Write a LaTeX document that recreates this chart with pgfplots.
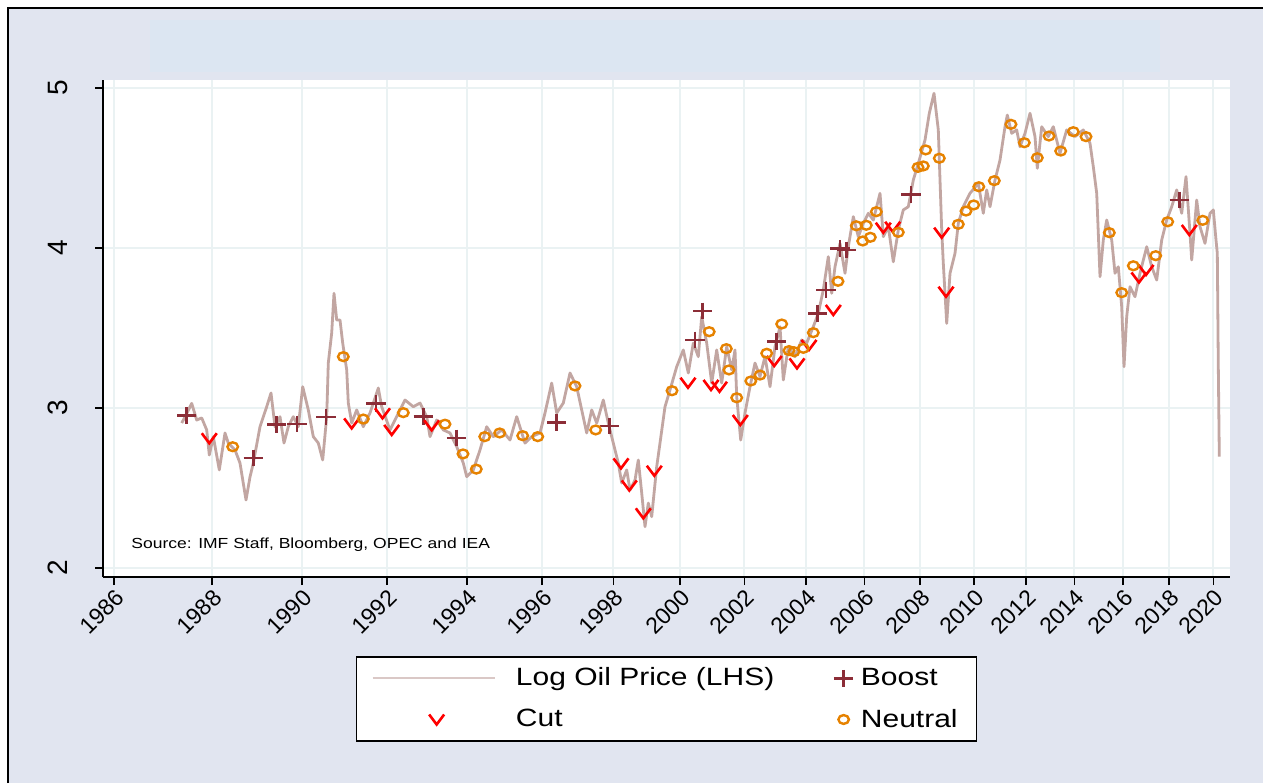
\documentclass[border=0pt]{standalone}
\usepackage{fontspec}
\setmainfont{Liberation Sans}[FakeStretch=1.2]
\newfontfamily\plainfont{Liberation Sans}
\usepackage{pgfplots}
\pgfplotsset{compat=1.18}
\definecolor{bgc}{RGB}{225,229,240}
\definecolor{bandc}{RGB}{220,230,242}
\definecolor{gridc}{RGB}{234,242,243}
\definecolor{oilc}{RGB}{194,166,162}
\definecolor{oilleg}{RGB}{218,200,198}
\definecolor{boostc}{RGB}{140,45,55}
\definecolor{cutc}{RGB}{255,0,0}
\definecolor{neutc}{RGB}{230,130,0}
\pgfdeclareplotmark{cutv}{%
  \pgfpathmoveto{\pgfqpoint{-0.75\pgfplotmarksize}{0.5\pgfplotmarksize}}%
  \pgfpathlineto{\pgfqpoint{0pt}{-0.5\pgfplotmarksize}}%
  \pgfpathlineto{\pgfqpoint{0.75\pgfplotmarksize}{0.5\pgfplotmarksize}}%
  \pgfusepathqstroke}

\pgfplotstableread{
x v
181.7 2.906
186.0 2.956
191.7 3.029
196.7 2.925
201.7 2.938
206.7 2.863
209.3 2.706
213.3 2.821
219.3 2.613
225.0 2.844
228.3 2.781
235.0 2.738
240.0 2.656
246.0 2.425
250.0 2.569
253.3 2.656
260.0 2.883
266.7 3.008
271.0 3.094
275.0 2.883
280.0 2.946
284.0 2.781
288.3 2.883
293.3 2.946
298.3 2.883
302.7 3.133
308.3 2.988
313.3 2.821
318.3 2.781
322.7 2.675
326.7 2.946
328.3 3.281
331.7 3.469
334.0 3.717
336.7 3.550
340.0 3.550
342.7 3.406
346.7 3.238
348.3 3.031
351.7 2.906
356.7 2.988
363.3 2.883
370.0 2.969
378.3 3.125
381.7 3.008
390.0 2.863
396.7 2.946
405.0 3.050
413.3 3.008
420.0 3.031
426.7 2.946
430.0 2.821
436.7 2.925
443.3 2.863
450.0 2.844
456.7 2.758
463.3 2.656
466.7 2.571
473.3 2.613
480.0 2.738
486.7 2.883
493.3 2.821
501.7 2.863
510.0 2.800
516.7 2.946
525.0 2.781
531.7 2.821
540.0 2.844
545.0 2.969
551.7 3.156
556.7 2.969
563.3 3.031
570.0 3.219
576.7 3.133
581.7 2.988
586.7 2.844
591.7 2.988
596.7 2.906
603.3 3.050
608.3 2.906
613.3 2.781
618.3 2.656
621.7 2.531
626.7 2.613
630.0 2.488
635.0 2.550
638.3 2.675
641.7 2.469
645.0 2.258
648.3 2.406
651.7 2.321
656.7 2.633
660.0 2.781
665.0 3.008
670.0 3.113
676.7 3.258
683.3 3.363
688.3 3.219
693.3 3.406
698.3 3.321
701.7 3.571
706.7 3.406
711.7 3.156
716.7 3.363
721.7 3.156
726.7 3.383
731.7 3.238
735.0 3.363
736.7 3.071
740.7 2.800
745.0 2.969
750.0 3.133
755.0 3.281
760.0 3.196
765.0 3.321
770.0 3.133
775.0 3.383
780.0 3.508
783.3 3.175
788.3 3.383
795.0 3.321
801.7 3.425
806.7 3.406
813.3 3.508
818.3 3.592
823.3 3.738
828.3 3.946
831.7 3.717
835.0 3.883
840.0 4.029
845.0 3.842
848.3 4.008
853.3 4.196
858.3 4.071
863.3 4.154
868.3 4.217
873.3 4.175
880.0 4.342
883.3 4.071
888.3 4.133
893.3 3.914
898.3 4.113
903.3 4.238
908.3 4.258
913.3 4.425
918.3 4.529
925.0 4.675
929.3 4.842
934.0 4.967
938.3 4.738
940.0 4.425
941.7 4.113
943.3 3.904
946.7 3.529
950.0 3.842
955.0 3.967
958.3 4.154
963.3 4.258
970.0 4.342
978.3 4.404
983.3 4.217
986.7 4.363
990.0 4.258
995.0 4.425
1000.0 4.550
1005.0 4.758
1007.3 4.831
1011.7 4.717
1016.7 4.738
1020.0 4.633
1025.0 4.717
1030.0 4.842
1035.0 4.696
1037.3 4.498
1041.7 4.758
1048.3 4.696
1053.3 4.758
1060.0 4.592
1066.7 4.738
1075.0 4.696
1083.3 4.738
1090.0 4.654
1093.3 4.508
1096.7 4.342
1098.3 4.092
1100.0 3.821
1103.3 4.050
1106.7 4.175
1111.7 4.050
1115.0 3.842
1118.3 3.883
1121.7 3.633
1124.0 3.258
1126.7 3.571
1130.0 3.758
1135.0 3.696
1140.0 3.842
1146.7 4.008
1151.7 3.883
1156.7 3.800
1161.7 4.050
1166.7 4.175
1171.7 4.258
1176.7 4.363
1181.7 4.217
1186.0 4.446
1190.0 4.092
1191.7 3.925
1196.7 4.300
1200.0 4.133
1205.0 4.029
1210.0 4.217
1213.3 4.238
1216.0 4.050
1217.3 3.967
1218.3 3.258
1219.3 2.696
}\oil

\pgfplotstableread{
x v
186.7 2.952
253.3 2.688
276.7 2.898
297.0 2.900
326.0 2.944
376.0 3.028
423.3 2.947
456.5 2.813
556.7 2.911
609.3 2.888
695.0 3.425
702.7 3.606
776.7 3.414
817.7 3.592
826.0 3.738
840.0 3.998
846.7 3.988
911.0 4.336
1179.3 4.300
}\boost

\pgfplotstableread{
x v
209.3 2.811
351.7 2.904
382.5 2.967
391.7 2.863
431.7 2.892
621.0 2.654
629.3 2.516
643.3 2.342
654.3 2.608
688.0 3.158
711.0 3.144
719.5 3.133
740.3 2.925
774.2 3.294
797.0 3.279
809.0 3.394
833.3 3.613
883.3 4.127
892.7 4.133
941.7 4.096
946.0 3.727
1139.0 3.816
1146.0 3.863
1189.3 4.113
}\cut

\pgfplotstableread{
x v
232.7 2.758
343.3 3.321
363.3 2.931
403.3 2.971
445.0 2.899
463.0 2.713
476.3 2.618
484.7 2.821
499.7 2.844
522.7 2.827
537.7 2.821
575.0 3.138
595.7 2.863
672.0 3.108
709.2 3.477
726.3 3.371
729.0 3.238
736.7 3.064
750.8 3.169
760.0 3.206
766.7 3.342
781.7 3.525
789.0 3.359
794.0 3.352
803.3 3.373
813.3 3.471
838.0 3.792
856.3 4.139
866.3 4.142
862.7 4.044
870.3 4.067
876.3 4.227
898.3 4.098
918.0 4.504
923.3 4.513
925.7 4.613
939.3 4.561
958.3 4.148
966.0 4.231
973.7 4.269
978.8 4.383
994.3 4.421
1011.0 4.773
1024.3 4.658
1037.3 4.564
1049.0 4.700
1060.7 4.606
1073.3 4.727
1086.0 4.696
1109.3 4.096
1121.7 3.721
1133.3 3.889
1155.7 3.952
1167.7 4.164
1202.7 4.173
}\neutral

\begin{document}
\begin{tikzpicture}
\begin{scope}[x=0.5pt,y=-0.5pt]
\useasboundingbox (0,0) rectangle (1263,783);
\fill[white] (0,0) rectangle (1263,783);
\fill[bgc] (8,8) rectangle (1263,783);
\draw[black, line width=1pt] (8,783) -- (8,8) -- (1263,8);
\fill[bandc] (150,20) rectangle (1160,72);
\end{scope}
\begin{axis}[
  at={(51.5pt,-288.5pt)}, anchor=south west,
  scale only axis, width=563.5pt, height=248.5pt,
  xmin=103, xmax=1230, ymin=1.94375, ymax=5.05,
  axis x line*=bottom, axis y line*=left,
  axis line style={line width=1pt, black},
  axis background/.style={fill=white},
  xtick={114,211.7,301.7,386.7,466.7,541.7,613.3,680,744.3,805.7,864.3,920,974,1025.7,1074.3,1122.7,1169,1213.3},
  xticklabels={1986,1988,1990,1992,1994,1996,1998,2000,2002,2004,2006,2008,2010,2012,2014,2016,2018,2020},
  ytick={2,3,4,5}, yticklabels={2,3,4,5},
  tick align=outside, major tick length=4pt,
  tick style={black, line width=0.8pt},
  xmajorgrids, ymajorgrids, grid style={gridc, line width=1pt},
  xticklabel style={rotate=45, anchor=north east, inner sep=1pt, font=\plainfont\fontsize{11.5}{12}\selectfont},
  yticklabel style={rotate=90, anchor=south, inner sep=0pt, yshift=13.5pt, font=\plainfont\fontsize{14}{14}\selectfont},
  legend columns=2,
  legend cell align=left,
  legend style={at={(0.5,0)}, anchor=north, yshift=-39.5pt, draw=black, line width=0.8pt, fill=white,
    font=\fontsize{12.5}{14}\selectfont, inner xsep=7.5pt, inner ysep=3.5pt, row sep=6pt,
    /tikz/column 1/.append style={column sep=8pt},
    /tikz/column 2/.append style={column sep=27pt},
    /tikz/column 3/.append style={column sep=1pt}},
]
\addplot[oilc, line width=1.4pt, line join=round, mark=none,
  legend image code/.code={\draw[oilleg, line width=0.9pt] (0pt,0pt) -- (61pt,0pt);}]
  table[x=x, y=v] {\oil};
\addlegendentry{Log Oil Price (LHS)}
\addplot[only marks, mark=+, mark size=4.2pt, boostc, line width=1.3pt, mark options={xscale=1.15},
  legend image code/.code={\path (0pt,0pt) (10pt,0pt); \draw[boostc, line width=1.3pt] plot[mark=+, only marks, mark size=4.2pt, mark options={xscale=1.15}] coordinates {(5pt,0pt)};}]
  table[x=x, y=v] {\boost};
\addlegendentry{Boost}
\addplot[only marks, mark=cutv, mark size=5pt, cutc, line width=1.3pt,
  legend image code/.code={\path (0pt,0pt) (61pt,0pt); \draw[cutc, line width=1.3pt] plot[mark=cutv, only marks, mark size=5pt] coordinates {(32pt,0pt)};}]
  table[x=x, y=v] {\cut};
\addlegendentry{Cut}
\addplot[only marks, mark=o, mark size=2.2pt, neutc, line width=1.2pt, mark options={xscale=1.2},
  legend image code/.code={\path (0pt,0pt) (10pt,0pt); \draw[neutc, line width=1.2pt] plot[mark=o, only marks, mark size=2.2pt, mark options={xscale=1.2}] coordinates {(5pt,0pt)};}]
  table[x=x, y=v] {\neutral};
\addlegendentry{Neutral}
\node[anchor=base west, inner sep=0pt, font=\fontsize{7.3}{8}\selectfont] at (axis cs:131,2.119) {Source: IMF Staff, Bloomberg, OPEC and IEA};
\end{axis}
\end{tikzpicture}
\end{document}
